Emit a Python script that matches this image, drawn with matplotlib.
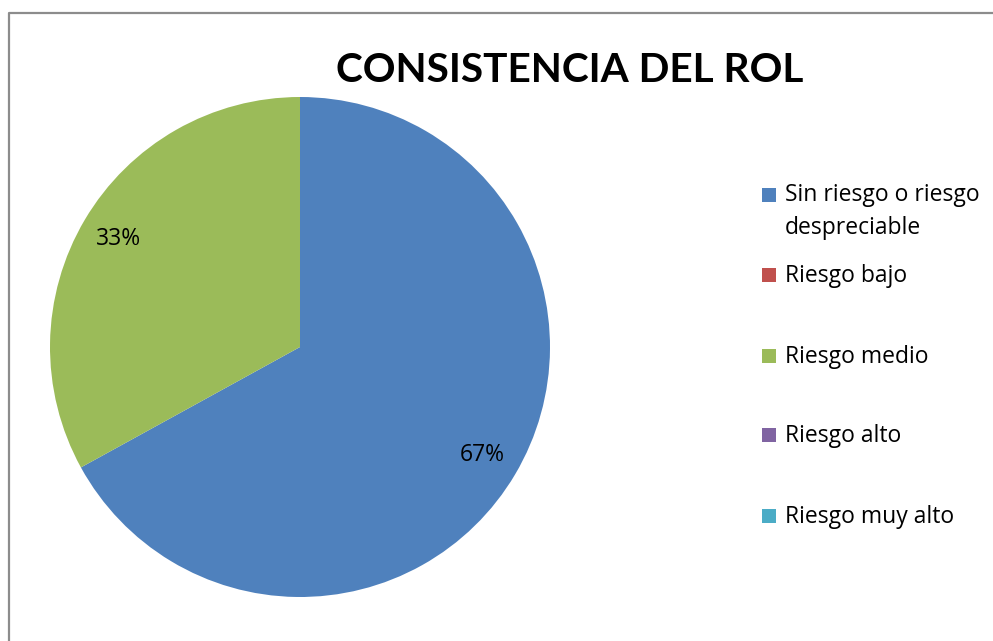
import matplotlib
matplotlib.use("Agg")
import matplotlib.pyplot as plt
from matplotlib.lines import Line2D
from matplotlib.patches import Rectangle

plt.rcParams["font.family"] = ["Open Sans", "DejaVu Sans"]

categories = ["Sin riesgo o riesgo\ndespreciable", "Riesgo bajo", "Riesgo medio",
              "Riesgo alto", "Riesgo muy alto"]
values = [67, 0, 33, 0, 0]
colors = ["#4F81BD", "#C0504D", "#9BBB59", "#8064A2", "#4BACC6"]
title = "CONSISTENCIA DEL ROL"

W, H = 993, 641
fig = plt.figure(figsize=(W / 100, H / 100), dpi=100)


def fx(px):
    return px / W


def fy(py):
    return 1 - py / H


# pie axes: centre (300, 347), radius 250 px
cx, cy, r = 300, 347, 250
ax = fig.add_axes([fx(cx - r), fy(cy + r), 2 * r / W, 2 * r / H])


def pct(p):
    return "%.0f%%" % p if p > 0 else ""


wedges, texts, autotexts = ax.pie(values, colors=colors, startangle=90, counterclock=False,
                                  autopct=pct, pctdistance=0.845,
                                  wedgeprops=dict(linewidth=0),
                                  textprops=dict(fontsize=16.5, color="black"))
ax.set_xlim(-1, 1)
ax.set_ylim(-1, 1)
ax.set_aspect("auto")
ax.axis("off")

fig.text(fx(570), fy(71), title, ha="center", va="center", fontsize=29.2,
         fontweight="bold", family=["Lato", "DejaVu Sans"])

# legend (baselines of the first line of each entry)
leg_y = [202, 282, 363, 442, 523]
line_gap = 32
for lab, col, y in zip(categories, colors, leg_y):
    fig.add_artist(Rectangle((fx(762), fy(y)), 14 / W, 14 / H, transform=fig.transFigure,
                             facecolor=col, edgecolor="none"))
    n = lab.count("\n")
    fig.text(fx(785), fy(y + line_gap * n), lab, ha="left", va="baseline",
             fontsize=16.5, linespacing=1.48)

# outer frame
fig.add_artist(Line2D([fx(8.5), fx(8.5), 1], [0, fy(12.5), fy(12.5)],
                      transform=fig.transFigure, color="#8c8c8c", linewidth=1.6))

fig.savefig("out.png", dpi=100)
